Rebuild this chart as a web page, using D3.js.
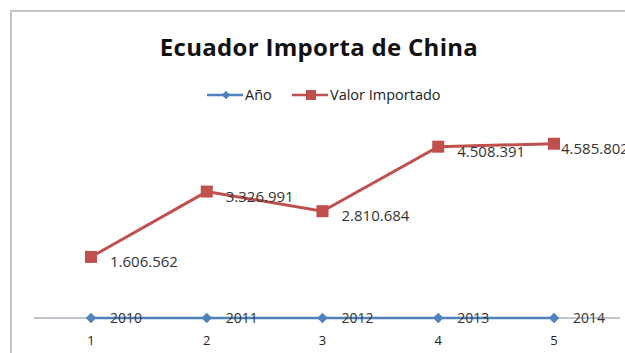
<!DOCTYPE html>
<html>
<head>
<meta charset="utf-8">
<script src="https://cdn.jsdelivr.net/npm/d3@7"></script>
<style>
  body { margin: 0; background: #fff; }
  svg { display: block; font-family: "Open Sans", "Liberation Sans", sans-serif; }
</style>
</head>
<body>
<svg id="chart" width="625" height="353"></svg>
<script>
// DATA
const categories = ["1", "2", "3", "4", "5"];
const anio = [2010, 2011, 2012, 2013, 2014];
const valorImportado = [1606562, 3326991, 2810684, 4508391, 4585802];
const seriesNames = ["Año", "Valor Importado"];

// DIMENSIONS
const W = 625, H = 353;
const PLOT = { left: 34, top: 128, bottom: 318 };
const BLUE = "#4F81BD", RED = "#C0504D";

const fmt = v => d3.format(",")(v).replace(/,/g, ".");
// square turned 45 degrees, like the excel diamond marker
const diamond = area => d3.symbol(d3.symbolSquare, area)();

const svg = d3.select("#chart");

// chart frame
svg.append("rect")
  .attr("x", 11).attr("y", 11)
  .attr("width", W + 20).attr("height", H + 20)
  .attr("fill", "none")
  .attr("stroke", "#c4c4c4")
  .attr("stroke-width", 2);

// title
svg.append("text")
  .attr("x", 319).attr("y", 56)
  .attr("text-anchor", "middle")
  .style("font-size", "24px")
  .style("font-weight", "bold")
  .style("letter-spacing", "0.3px")
  .attr("fill", "#111")
  .text("Ecuador Importa de China");

// SCALES
const x = d3.scalePoint()
  .domain(categories)
  .range([91, 554]);

const y = d3.scaleLinear()
  .domain([0, 5000000])
  .range([PLOT.bottom, PLOT.top]);

// horizontal axis line
svg.append("line")
  .attr("x1", PLOT.left).attr("x2", 620)
  .attr("y1", y(0)).attr("y2", y(0))
  .attr("stroke", "#7f8a99")
  .attr("stroke-width", 1);

// category labels
svg.append("g")
  .selectAll("text")
  .data(categories)
  .join("text")
  .attr("x", d => x(d))
  .attr("y", y(0) + 27)
  .attr("text-anchor", "middle")
  .style("font-size", "13px")
  .attr("fill", "#222")
  .text(d => d);

const line = d3.line()
  .x((d, i) => x(categories[i]))
  .y(d => y(d));

// Año series
svg.append("path")
  .attr("d", line(anio))
  .attr("fill", "none")
  .attr("stroke", BLUE)
  .attr("stroke-width", 2.5);

svg.append("g")
  .selectAll("path")
  .data(anio)
  .join("path")
  .attr("d", diamond(55))
  .attr("transform", (d, i) => `translate(${x(categories[i])},${y(d)}) rotate(45)`)
  .attr("fill", BLUE);

svg.append("g")
  .selectAll("text")
  .data(anio)
  .join("text")
  .attr("x", (d, i) => x(categories[i]) + 19)
  .attr("y", d => y(d) + 5)
  .style("font-size", "14px")
  .attr("fill", "#333")
  .text(d => d);

// Valor Importado series
svg.append("path")
  .attr("d", line(valorImportado))
  .attr("fill", "none")
  .attr("stroke", RED)
  .attr("stroke-width", 3);

svg.append("g")
  .selectAll("rect")
  .data(valorImportado)
  .join("rect")
  .attr("x", (d, i) => x(categories[i]) - 6)
  .attr("y", d => y(d) - 6)
  .attr("width", 12).attr("height", 12)
  .attr("fill", RED);

// the last label is pushed left against the chart edge
svg.append("g")
  .selectAll("text")
  .data(valorImportado)
  .join("text")
  .attr("x", (d, i) => x(categories[i]) + (i === valorImportado.length - 1 ? 7 : 19))
  .attr("y", d => y(d) + 10)
  .style("font-size", "15px")
  .attr("fill", "#333")
  .text(d => fmt(d));

// LEGEND
const legend = svg.append("g");
const legendItems = [
  { name: seriesNames[0], color: BLUE, x0: 207, shape: "diamond" },
  { name: seriesNames[1], color: RED, x0: 292, shape: "square" }
];
legendItems.forEach(it => {
  legend.append("line")
    .attr("x1", it.x0).attr("x2", it.x0 + 36)
    .attr("y1", 95).attr("y2", 95)
    .attr("stroke", it.color).attr("stroke-width", 2.5);
  if (it.shape === "diamond") {
    legend.append("path")
      .attr("d", diamond(36))
      .attr("transform", `translate(${it.x0 + 19},95) rotate(45)`)
      .attr("fill", it.color);
  } else {
    legend.append("rect")
      .attr("x", it.x0 + 14).attr("y", 90)
      .attr("width", 10).attr("height", 10)
      .attr("fill", it.color);
  }
  legend.append("text")
    .attr("x", it.x0 + 38).attr("y", 100)
    .style("font-size", "14.5px")
    .attr("fill", "#222")
    .text(it.name);
});
</script>
</body>
</html>
